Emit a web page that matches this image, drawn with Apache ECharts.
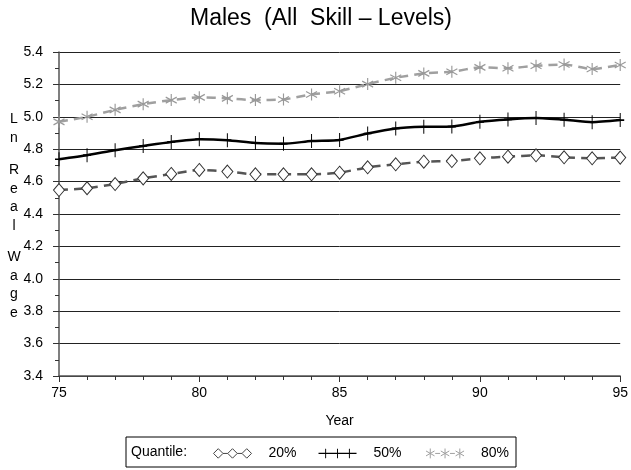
<!DOCTYPE html>
<html>
<head>
<meta charset="utf-8">
<script src="https://cdn.jsdelivr.net/npm/echarts@6/dist/echarts.min.js"></script>
<style>html,body{margin:0;padding:0;background:#fff;}#c{width:631px;height:470px;}</style>
</head>
<body>
<div id="c"></div>
<script>
var years = [75,76,77,78,79,80,81,82,83,84,85,86,87,88,89,90,91,92,93,94,95];
var q20 = [4.548,4.559,4.585,4.620,4.647,4.672,4.662,4.645,4.645,4.645,4.655,4.688,4.707,4.723,4.727,4.744,4.754,4.762,4.750,4.744,4.748];
var q50 = [4.738,4.763,4.794,4.820,4.845,4.862,4.856,4.838,4.834,4.850,4.857,4.897,4.928,4.938,4.940,4.969,4.984,4.992,4.982,4.967,4.980];
var q80 = [4.969,5.000,5.043,5.078,5.103,5.120,5.114,5.103,5.107,5.138,5.158,5.202,5.241,5.268,5.278,5.305,5.300,5.315,5.323,5.295,5.320];
var seriesNames = ['20%','50%','80%'];
var yTicks = {min:3.4, max:5.4, interval:0.2};
var xTicks = {min:75, max:95, interval:5};

function pairs(v){ return years.map(function(y,i){ return [y, v[i]]; }); }

var FONT = '"Liberation Sans", Arial, Helvetica, sans-serif';
var plusPath = 'path://M5,0 L5,10 M0,5 L10,5';
var starPath = 'path://M5,0 L5,10 M0.7,2.5 L9.3,7.5 M0.7,7.5 L9.3,2.5';
var icon20 = 'path://M0,5 L5,0 L10,5 L5,10 Z M15,5 L20,0 L25,5 L20,10 Z M30,5 L35,0 L40,5 L35,10 Z M10,5 L15,5 M25,5 L30,5';
var icon50 = 'path://M0,4.3 L40,4.3 L40,5.7 L0,5.7 Z M7,0 L8,0 L8,10 L7,10 Z M19.5,0 L20.5,0 L20.5,10 L19.5,10 Z M32,0 L33,0 L33,10 L32,10 Z';
var icon80 = 'path://M5,0 L5,10 M0.7,2.5 L9.3,7.5 M0.7,7.5 L9.3,2.5 M20,0 L20,10 M15.7,2.5 L24.3,7.5 M15.7,7.5 L24.3,2.5 M35,0 L35,10 M30.7,2.5 L39.3,7.5 M30.7,7.5 L39.3,2.5 M10,5 L15,5 M25,5 L30,5';

var letterStyle = {font:'14px '+FONT, fill:'#000', lineHeight:18.5, align:'center'};
function letters(t, top){ return {type:'text', x:14, y:top, style:Object.assign({text:t}, letterStyle)}; }

var chart = echarts.init(document.getElementById('c'), null, {renderer:'canvas'});
chart.setOption({
  animation:false,
  backgroundColor:'#fff',
  title:{text:'Males  (All  Skill \u2013 Levels)', left:316, textAlign:'center', top:2,
    textStyle:{fontFamily:FONT, fontSize:23, fontWeight:'normal', color:'#000'}},
  grid:{left:59, right:7, top:52, bottom:94, containLabel:false},
  xAxis:{type:'value', min:xTicks.min, max:xTicks.max, interval:xTicks.interval,
    name:'Year', nameLocation:'middle', nameGap:38,
    nameTextStyle:{fontFamily:FONT, fontSize:14, color:'#000'},
    axisLine:{show:true, onZero:false, lineStyle:{color:'#555', width:1.5}},
    axisTick:{show:true, length:6, lineStyle:{color:'#333'}},
    minorTick:{show:true, splitNumber:5, length:4, lineStyle:{color:'#333'}},
    splitLine:{show:false},
    axisLabel:{fontFamily:FONT, fontSize:14, color:'#000', margin:10}},
  yAxis:{type:'value', min:yTicks.min, max:yTicks.max, interval:yTicks.interval,
    axisLine:{show:true, lineStyle:{color:'#555', width:1.5}},
    axisTick:{show:true, length:6, lineStyle:{color:'#333'}},
    minorTick:{show:true, splitNumber:2, length:4, lineStyle:{color:'#333'}},
    splitLine:{show:true, lineStyle:{color:'#222', width:1}},
    axisLabel:{fontFamily:FONT, fontSize:14, color:'#000', margin:16,
      formatter:function(v){ return v.toFixed(1); }}},
  legend:{left:208, top:441, itemWidth:38, itemHeight:11, itemGap:22,
    data:[
      {name:seriesNames[0], icon:icon20, itemStyle:{color:'#fff', borderColor:'#444', borderWidth:1}},
      {name:seriesNames[1], icon:icon50, itemStyle:{color:'#000', borderColor:'#000', borderWidth:0}},
      {name:seriesNames[2], icon:icon80, itemStyle:{color:'none', borderColor:'#a0a0a0', borderWidth:1}}
    ],
    textStyle:{fontFamily:FONT, fontSize:14, color:'#000', padding:[0,0,0,12]}},
  graphic:[
    {type:'rect', shape:{x:126, y:437, width:390, height:30}, style:{fill:'none', stroke:'#000', lineWidth:1}},
    {type:'text', x:131, y:452, style:{text:'Quantile:', font:'14px '+FONT, fill:'#000', verticalAlign:'middle'}},
    letters('L\nn', 110),
    letters('R\ne\na\nl', 161),
    letters('W\na\ng\ne', 248)
  ],
  series:[
    {name:'20%', type:'line', data:pairs(q20), smooth:0.2,
      symbol:'diamond', symbolSize:[11,13], showAllSymbol:true,
      lineStyle:{color:'#555', width:2.5, type:[9,6]},
      itemStyle:{color:'#fff', borderColor:'#333', borderWidth:1}},
    {name:'50%', type:'line', data:pairs(q50), smooth:0.2,
      symbol:plusPath, symbolSize:[8,14], showAllSymbol:true,
      lineStyle:{color:'#000', width:2.5},
      itemStyle:{color:'none', borderColor:'#000', borderWidth:1.3}},
    {name:'80%', type:'line', data:pairs(q80), smooth:0.2,
      symbol:starPath, symbolSize:[11,12], showAllSymbol:true,
      lineStyle:{color:'#a0a0a0', width:2.5, type:[9,6]},
      itemStyle:{color:'none', borderColor:'#999', borderWidth:1.2}}
  ]
});
</script>
</body>
</html>
